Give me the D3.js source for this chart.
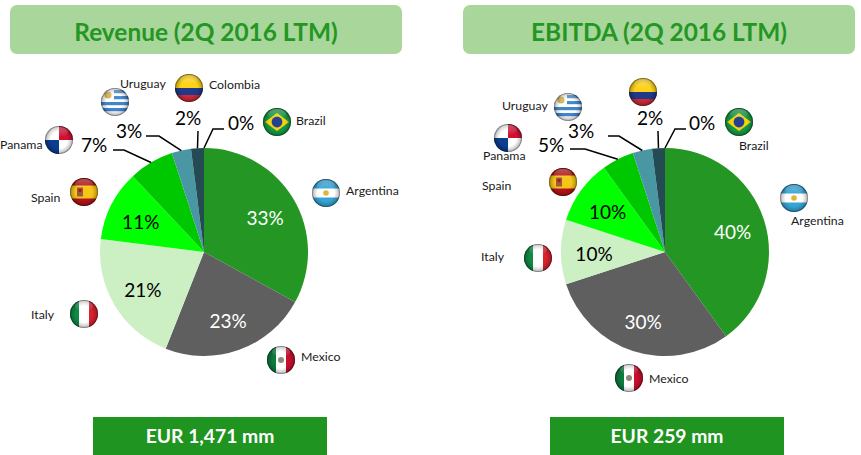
<!DOCTYPE html>
<html><head><meta charset="utf-8">
<script src="https://cdn.jsdelivr.net/npm/d3@7"></script>
<style>html,body{margin:0;padding:0;background:#fff}svg{display:block}text{font-family:Lato,"Open Sans",sans-serif}</style>
</head><body><svg id="c" width="861" height="455"></svg>
<script>
const countries = ["Argentina","Mexico","Italy","Spain","Panama","Uruguay","Colombia","Brazil"];
const revenueShare = [33,23,21,11,7,3,2,0];
const ebitdaShare = [40,30,10,10,5,3,2,0];
const titles = ["Revenue (2Q 2016 LTM)","EBITDA (2Q 2016 LTM)"];
const totals = ["EUR 1,471 mm","EUR 259 mm"];

const sliceColors = ["#239623","#5f5f5f","#ccefc4","#00ff00","#00c800","#4a97a4","#244a54","#1a6a1a"];
const insideText = ["#fff","#fff","#000","#000"];

// layout (not data): flag centre, country label anchor, outside-label position, leader elbows
const layouts = [
 {cx:204,cy:252,box:[10,5,392,49],total:[93,417,234,38],
  flags:{Argentina:[326,193],Mexico:[281,360],Italy:[84,314],Spain:[84,192],Panama:[59,140],Uruguay:[115,102],Colombia:[189,88],Brazil:[277,122]},
  names:{Argentina:[346,195,"start"],Mexico:[301,361,"start"],Italy:[31,319,"start"],Spain:[31,202,"start"],Panama:[0,149,"start"],Uruguay:[120,88,"start"],Colombia:[209,89,"start"],Brazil:[296,125,"start"]},
  outside:{Panama:[94,152],Uruguay:[129,138],Colombia:[188,125],Brazil:[241,130]},
  elbows:{Panama:[[124,150],[113,150]],Uruguay:[[159,136],[146,136]],Colombia:[[198,131]],Brazil:[[213,129],[224,129]]}},
 {cx:665,cy:252,box:[463,5,392,49],total:[550,417,234,38],
  flags:{Argentina:[794,198],Mexico:[629,378],Italy:[538,258],Spain:[563,182],Panama:[508,138],Uruguay:[568,107],Colombia:[643,92],Brazil:[739,122]},
  names:{Argentina:[791,225,"start"],Mexico:[649,383,"start"],Italy:[481,261,"start"],Spain:[482,190,"start"],Panama:[483,160,"start"],Uruguay:[502,110,"start"],Colombia:[0,0,"none"],Brazil:[739,150,"start"]},
  outside:{Panama:[551,152],Uruguay:[581,138],Colombia:[650,125],Brazil:[702,130]},
  elbows:{Panama:[[585,149],[570,149]],Uruguay:[[619,136],[608,136]],Colombia:[[658,131]],Brazil:[[675,129],[686,129]]}}
];

const svg = d3.select("#c");
const defs = svg.append("defs");
const gloss = defs.append("radialGradient").attr("id","gloss").attr("cx","50%").attr("cy","50%").attr("r","50%");
gloss.append("stop").attr("offset","0.6").attr("stop-color","#000").attr("stop-opacity",0);
gloss.append("stop").attr("offset","0.88").attr("stop-color","#000").attr("stop-opacity",0.2);
gloss.append("stop").attr("offset","1").attr("stop-color","#000").attr("stop-opacity",0.6);
const shine = defs.append("linearGradient").attr("id","shine").attr("x1",0).attr("x2",0).attr("y1",0).attr("y2",1);
shine.append("stop").attr("offset","0").attr("stop-color","#fff").attr("stop-opacity",0.3);
shine.append("stop").attr("offset","1").attr("stop-color","#fff").attr("stop-opacity",0);
defs.append("clipPath").attr("id","disc").append("circle").attr("r",14);

function rect(g,x,y,w,h,f){g.append("rect").attr("x",x).attr("y",y).attr("width",w).attr("height",h).attr("fill",f);}
const painters = {
 Argentina(g){rect(g,-14,-14,28,28,"#fff");rect(g,-14,-14,28,9.5,"#35a5d6");rect(g,-14,4.5,28,9.5,"#35a5d6");g.append("circle").attr("r",2.8).attr("fill","#e5b23a");},
 Mexico(g){rect(g,-14,-14,28,28,"#fff");rect(g,-14,-14,9,28,"#0d7a3e");rect(g,5,-14,9,28,"#c8102e");g.append("circle").attr("r",3).attr("fill","#8f8a74");},
 Italy(g){rect(g,-14,-14,28,28,"#fff");rect(g,-14,-14,9,28,"#0f8a45");rect(g,5,-14,9,28,"#d8222e");},
 Spain(g){rect(g,-14,-14,28,28,"#f5c518");rect(g,-14,-14,28,7.5,"#b5121b");rect(g,-14,6.5,28,7.5,"#b5121b");rect(g,-7,-4.5,6,9,"#9c5a3c");rect(g,-5.5,-3,3,3,"#b5121b");},
 Panama(g){rect(g,-14,-14,28,28,"#fff");rect(g,0,-14,14,14,"#d21034");rect(g,-14,0,14,14,"#0b3d91");},
 Uruguay(g){rect(g,-14,-14,28,28,"#fff");[-12,-6,0,6].forEach(y=>rect(g,-14,y,28,3.2,"#3f86cf"));rect(g,-14,-14,13,14,"#fff");g.append("circle").attr("cx",-7).attr("cy",-7).attr("r",3.6).attr("fill","#d9b650");},
 Colombia(g){rect(g,-14,-14,28,14,"#fcd116");rect(g,-14,0,28,7,"#1f3a8a");rect(g,-14,7,28,7,"#ce2b37");},
 Brazil(g){rect(g,-14,-14,28,28,"#169b47");g.append("path").attr("d","M-12,0L0,-9L12,0L0,9Z").attr("fill","#f6d20e");g.append("circle").attr("r",5.4).attr("fill","#24408e");}
};
function flag(name,x,y){
 const g=svg.append("g").attr("transform",`translate(${x},${y})`);
 const inner=g.append("g").attr("clip-path","url(#disc)");
 painters[name](inner);
 g.append("circle").attr("r",14).attr("fill","url(#gloss)");
 g.append("ellipse").attr("cy",-8).attr("rx",9).attr("ry",5).attr("fill","url(#shine)");
}

const pie=d3.pie().sort(null).startAngle(0).endAngle(2*Math.PI);
const R=104;
const arc=d3.arc().innerRadius(0).outerRadius(R);
const labelArc=d3.arc().innerRadius(71).outerRadius(71);
const line=d3.line();

[revenueShare,ebitdaShare].forEach((vals,i)=>{
 const L=layouts[i];
 svg.append("rect").attr("x",L.box[0]).attr("y",L.box[1]).attr("width",L.box[2]).attr("height",L.box[3]).attr("rx",7).attr("fill","#a9d69b");
 svg.append("text").attr("x",L.box[0]+L.box[2]/2).attr("y",41).attr("text-anchor","middle").attr("font-size",24.4).attr("font-weight",700).attr("fill","#239623").text(titles[i]);
 svg.append("rect").attr("x",L.total[0]).attr("y",L.total[1]).attr("width",L.total[2]).attr("height",L.total[3]).attr("fill","#1f9420");
 svg.append("text").attr("x",L.total[0]+L.total[2]/2).attr("y",443).attr("text-anchor","middle").attr("font-size",19.3).attr("font-weight",700).attr("fill","#fff").text(totals[i]);

 const g=svg.append("g").attr("transform",`translate(${L.cx},${L.cy})`);
 const arcs=pie(vals);
 g.selectAll("path").data(arcs).join("path").attr("d",arc).attr("fill",(d,k)=>sliceColors[k]);
 arcs.forEach((d,k)=>{
  const name=countries[k];
  if(k<4){
   const [x,y]=labelArc.centroid(d);
   g.append("text").attr("x",x).attr("y",y+9).attr("text-anchor","middle").attr("font-size",19).attr("fill",insideText[k]).text(vals[k]+"%");
  } else {
   const mid=(d.startAngle+d.endAngle)/2;
   const start=[L.cx+R*Math.sin(mid),L.cy-R*Math.cos(mid)];
   svg.append("path").attr("d",line([start,...L.elbows[name]])).attr("fill","none").attr("stroke","#000").attr("stroke-width",1.5);
   const o=L.outside[name];
   svg.append("text").attr("x",o[0]).attr("y",o[1]).attr("text-anchor","middle").attr("font-size",19).attr("fill","#000").text(vals[k]+"%");
  }
  const f=L.flags[name]; flag(name,f[0],f[1]);
  const t=L.names[name];
  if(t[2]!=="none") svg.append("text").attr("x",t[0]).attr("y",t[1]).attr("text-anchor",t[2]).attr("font-size",12.3).attr("fill","#1a1a1a").text(name);
 });
});
</script></body></html>
